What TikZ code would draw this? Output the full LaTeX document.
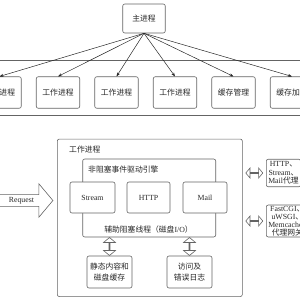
\documentclass[tikz,border=0pt]{standalone}
\usepackage{fontspec}
\setmainfont{Liberation Serif}
\newfontfamily\zhfont{Noto Sans CJK SC}
\usetikzlibrary{arrows.meta, shapes.arrows, calc, positioning}
\definecolor{linegray}{RGB}{100,100,100}
\definecolor{textgray}{RGB}{40,40,40}
\newcommand{\en}[1]{{\rmfamily #1}}

\begin{document}
\begin{tikzpicture}[x=1pt, y=-1pt,
  box/.style={rectangle, rounded corners=2pt, draw=linegray, fill=white,
    line width=0.6pt, minimum width=43.5pt, minimum height=31.5pt,
    align=center, font=\zhfont\fontsize{7.8}{9.5}\selectfont,
    text=textgray, inner sep=1pt},
  lbl/.style={font=\zhfont\fontsize{7.8}{9.5}\selectfont, text=textgray,
    inner sep=0pt},
  frame/.style={draw=linegray, line width=0.6pt},
  farr/.style={-{Stealth[length=4pt,width=3pt]}, line width=0.5pt,
    draw=textgray},
  darr/.style={double arrow, draw=linegray, fill=white, line width=0.6pt,
    inner sep=0pt, double arrow tip angle=100},
]
\useasboundingbox (0,0) rectangle (300,300);
\clip (0,0) rectangle (300,300);
%% Master process
\node[box, minimum width=42.5pt, minimum height=29pt]
  (master) at (144,18.5) {主进程};
%% Process row
\draw[frame] (-20,60) rectangle (320,115);
\node[box] (w1) at (-0.5,92.5)  {工作进程};
\node[box] (w2) at (58,92.5)    {工作进程};
\node[box] (w3) at (116.5,92.5) {工作进程};
\node[box] (w4) at (175,92.5)   {工作进程};
\node[box] (w5) at (233.5,92.5) {缓存管理};
\node[box] (w6) at (292,92.5)   {缓存加载};
%% Fork arrows
\draw[farr] (master.south) -- (w1.north);
\draw[farr] (master.south) -- (w2.north);
\draw[farr] (master.south) -- (w3.north);
\draw[farr] (master.south) -- (w4.north);
\draw[farr] (master.south) -- (w5.north);
\draw[farr] (master.south) -- (w6.north);
%% Worker process detail
\node[box, minimum width=185pt, minimum height=157.5pt]
  (wp) at (149.8,217.8) {};
\node[lbl, anchor=west] (wplabel) at (69,150) {工作进程};
\node[box, minimum width=133pt, minimum height=78pt]
  (engine) at (149.2,198) {};
\node[lbl, anchor=west] (enginetop) at (88,169.5) {非阻塞事件驱动引擎};
\node[lbl] (enginebot) at (148.5,230) {辅助阻塞线程（磁盘\en{I/O}）};
%% Modules
\node[box, minimum width=45pt, minimum height=31pt]
  (stream) at (92.5,197.5) {\en{Stream}};
\node[box, minimum width=43pt, minimum height=31pt]
  (http) at (148.5,197.5) {\en{HTTP}};
\node[box, minimum width=44pt, minimum height=31pt]
  (mail) at (205,197.5) {\en{Mail}};
%% Storage
\node[box, minimum width=45pt, minimum height=32pt,
      font=\zhfont\fontsize{7.8}{11.5}\selectfont]
  (static) at (109.5,272) {静态内容和\\磁盘缓存};
\node[box, minimum width=45pt, minimum height=32pt,
      font=\zhfont\fontsize{7.8}{11.5}\selectfont]
  (log) at (189.5,272) {访问及\\错误日志};
\node[darr, rotate=90, minimum height=18pt, minimum width=12pt,
      double arrow head extend=3.5pt]
  (dstatic) at ($(static.north)!0.5!(static.north |- engine.south)$) {};
\node[darr, rotate=90, minimum height=18pt, minimum width=12pt,
      double arrow head extend=3.5pt]
  (dlog) at ($(log.north)!0.5!(log.north |- engine.south)$) {};
%% Proxies
\node[box, anchor=west, inner xsep=2pt, minimum width=30pt,
      minimum height=27.5pt, font=\zhfont\fontsize{7.8}{8.5}\selectfont]
  (px1) at (266,173) {\en{HTTP}、\\\en{Stream}、\\\en{Mail}代理};
\node[box, anchor=west, inner xsep=2pt, minimum width=30pt,
      minimum height=32pt, font=\zhfont\fontsize{7.8}{7.9}\selectfont]
  (px2) at (266,221) {\en{FastCGI}、\\\en{uWSGI}、\\\en{Memcached}\\代理网关};
\node[darr, minimum height=17pt, minimum width=10pt,
      double arrow head extend=3pt]
  (dpx1) at ($(wp.east |- px1.west)!0.5!(px1.west)$) {};
\node[darr, minimum height=17pt, minimum width=10pt,
      double arrow head extend=3pt]
  (dpx2) at ($(wp.east |- px2.west)!0.5!(px2.west)$) {};
%% Request
\node[single arrow, draw=linegray, fill=white, line width=0.6pt,
      minimum height=58pt, minimum width=33.4pt,
      single arrow head extend=8.5pt, single arrow tip angle=100,
      inner sep=1pt, anchor=tip, font=\fontsize{7.8}{9.5}\selectfont,
      text=textgray]
  (req) at (53.3,200.5) {Request};
\end{tikzpicture}
\end{document}
